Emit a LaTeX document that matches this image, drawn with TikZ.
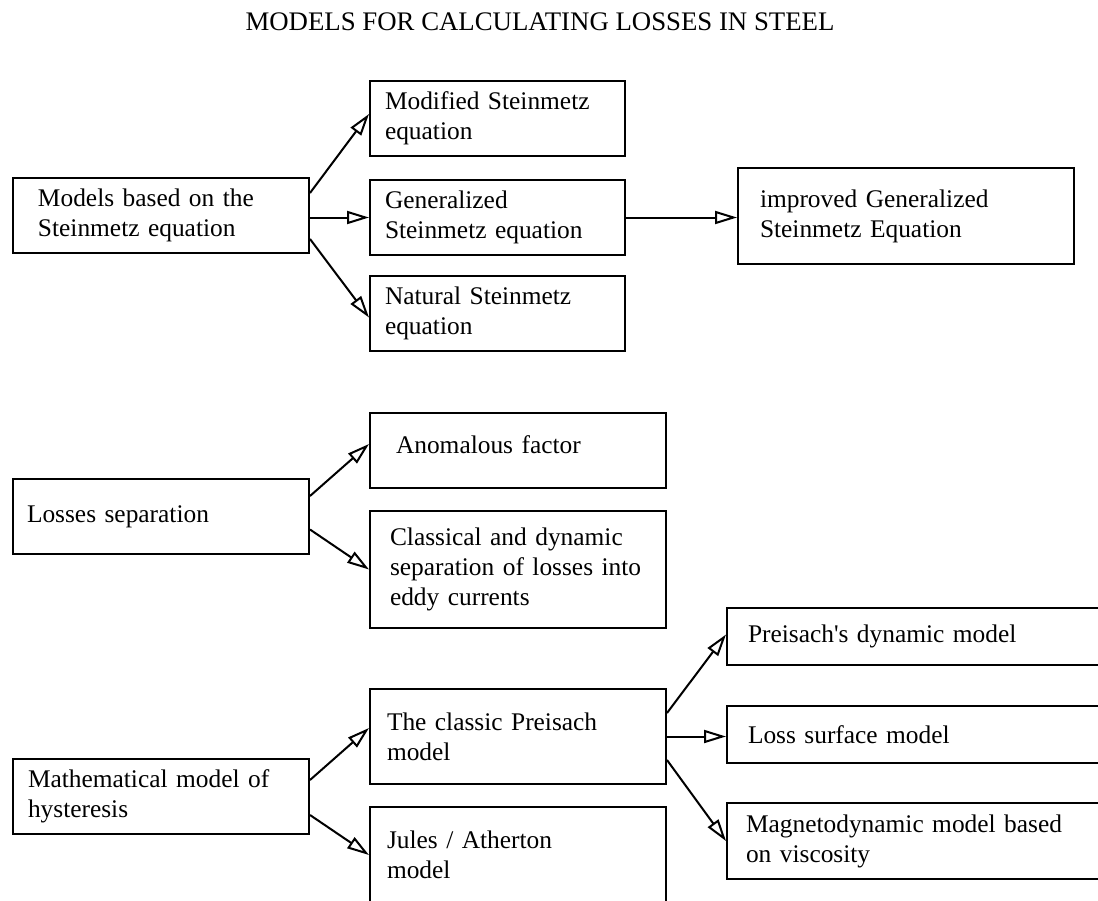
\documentclass[tikz,border=0pt]{standalone}
\usepackage{fontspec}
\setmainfont{Liberation Serif}
\usetikzlibrary{arrows.meta,calc}
\tikzset{box/.style={draw,line width=1pt,anchor=north west,align=left,inner ysep=0pt,font=\fontsize{12.7}{15}\selectfont}}
\tikzset{link/.style={line width=1pt,-{Triangle[open,length=11pt,width=6.5pt]}}}

\begin{document}
\begin{tikzpicture}[x=0.5pt,y=-0.5pt]

	\path[use as bounding box,fill=white] (0,0) rectangle (1098,900);

	% Titulo
	\node [font=\fontsize{13.4}{15}\selectfont] (title) at (540,22)
		{MODELS FOR CALCULATING LOSSES IN STEEL};

	% Grupo Steinmetz
	\node [box,text width=123pt,inner xsep=12.5pt,minimum height=37.5pt] (msteq) at (12,177)
		{Models based on the\\Steinmetz equation};
	\node [box,text width=112.5pt,inner xsep=7.5pt,minimum height=37.5pt] (mse) at (369,80)
		{Modified Steinmetz\\equation};
	\node [box,text width=112.5pt,inner xsep=7.5pt,minimum height=37.5pt] (gse) at (369,179)
		{Generalized\\Steinmetz equation};
	\node [box,text width=112.5pt,inner xsep=7.5pt,minimum height=37.5pt] (nse) at (369,275)
		{Natural Steinmetz\\equation};
	\node [box,text width=146pt,inner xsep=11pt,minimum height=48pt] (igse) at (737,167)
		{improved Generalized\\Steinmetz Equation};

	% Grupo separacao de perdas
	\node [box,text width=134pt,inner xsep=7pt,minimum height=37.5pt] (lsep) at (12,478)
		{Losses separation};
	\node [box,text width=122pt,inner xsep=13pt,minimum height=37.5pt] (anom) at (369,412)
		{Anomalous factor\\[-9pt]\mbox{}};
	\node [box,text width=128pt,inner xsep=10pt,minimum height=58.5pt] (cdsep) at (369,510)
		{Classical and dynamic\\separation of losses into\\eddy currents};

	% Grupo histerese
	\node [box,text width=133pt,inner xsep=7.5pt,minimum height=37.5pt] (mmh) at (12,758)
		{Mathematical model of\\hysteresis};
	\node [box,text width=131pt,inner xsep=8.5pt,minimum height=47.5pt] (cpm) at (369,688)
		{The classic Preisach\\model};
	\node [box,text width=131pt,inner xsep=8.5pt,minimum height=48pt] (jam) at (369,806)
		{Jules / Atherton\\model};
	\node [box,text width=169pt,inner xsep=10.5pt,minimum height=28.5pt] (pdm) at (726,607)
		{Preisach\textquotesingle s dynamic model};
	\node [box,text width=169pt,inner xsep=10.5pt,minimum height=28.5pt] (lsm) at (726,705)
		{Loss surface model};
	\node [box,text width=171pt,inner xsep=9.5pt,minimum height=38pt] (mdm) at (726,802)
		{Magnetodynamic model based\\on viscosity};

	% Flechas
	\draw [link] ($(msteq.east)+(0,-22.5)$) -- ($(mse.west)+(0,-4.5)$);
	\draw [link] (msteq.east |- gse.west) -- (gse.west);
	\draw [link] ($(msteq.east)+(0,23.5)$) -- ($(nse.west)+(0,4)$);
	\draw [link] (gse.east) -- (gse.east -| igse.west);

	\draw [link] ($(lsep.east)+(0,-20.5)$) -- ($(anom.west)+(0,-6.5)$);
	\draw [link] ($(lsep.east)+(0,13)$) -- (cdsep.west);

	\draw [link] ($(mmh.east)+(0,-16.5)$) -- ($(cpm.west)+(0,-8.5)$);
	\draw [link] ($(mmh.east)+(0,18.5)$) -- (jam.west);
	\draw [link] ($(cpm.east)+(0,-23.5)$) -- ($(pdm.west)+(0,-2)$);
	\draw [link] (cpm.east) -- (cpm.east -| lsm.west);
	\draw [link] ($(cpm.east)+(0,23.5)$) -- (mdm.west);

\end{tikzpicture}
\end{document}
